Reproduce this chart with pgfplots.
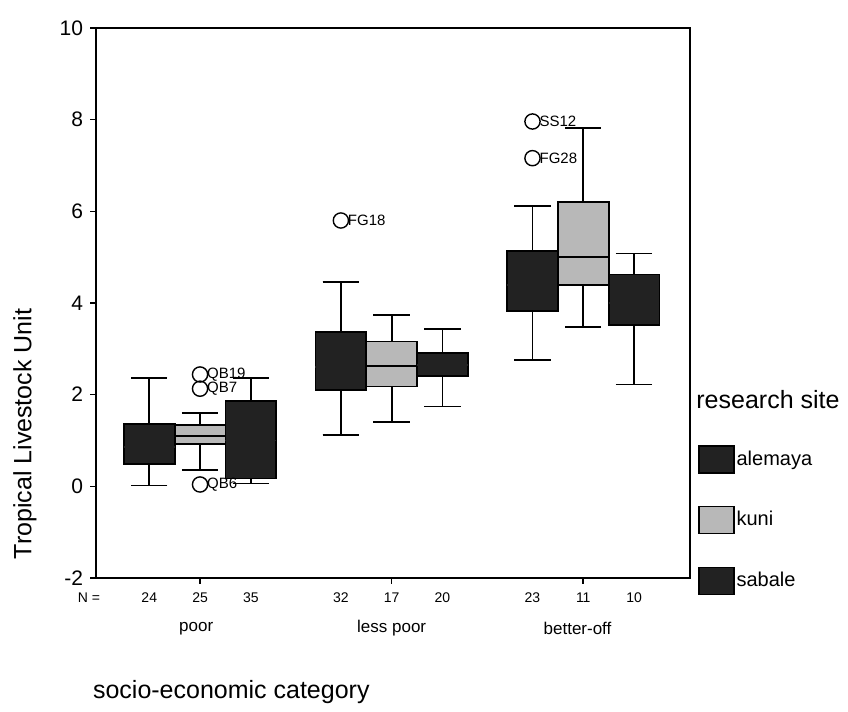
\documentclass[border=0pt]{standalone}
\usepackage{fontspec}
\setmainfont{Liberation Sans}
\usepackage{pgfplots}
\pgfplotsset{compat=1.18}
\usepgfplotslibrary{statistics}
\definecolor{darkbox}{RGB}{34,34,34}
\definecolor{kunigray}{RGB}{184,184,184}
\pgfplotsset{
  darkstyle/.style={forget plot, draw=black, fill=darkbox, line width=0.9pt,
    boxplot/every median/.style={draw=darkbox, line width=0.9pt}},
  kunistyle/.style={forget plot, draw=black, fill=kunigray, line width=0.9pt,
    boxplot/every median/.style={draw=black, line width=0.9pt}},
}
\begin{document}
\begin{tikzpicture}
\useasboundingbox (0,0) rectangle (424pt,356pt);
\begin{axis}[
  at={(48pt,67pt)}, anchor=south west,
  width=297pt, height=275pt, scale only axis,
  xmin=0.457, xmax=3.557, ymin=-2, ymax=10,
  ytick={-2,0,2,4,6,8,10},
  xtick={1,2,3}, xticklabels={},
  xtick pos=left, ytick pos=left,
  tick align=outside, major tick length=3pt,
  tick style={black, line width=0.8pt},
  axis line style={line width=0.9pt},
  yticklabel style={font=\fontsize{10.5}{12}\selectfont},
  /pgf/number format/assume math mode=true,
  clip=false,
  boxplot/draw direction=y,
  legend image code/.code={\draw[#1] (0pt,-6.75pt) rectangle (17.5pt,6.75pt);},
  legend style={at={(1.0135,0.2418)}, anchor=north west, draw=none, fill=none,
    font=\fontsize{10}{12}\selectfont, row sep=16.25pt, inner sep=0pt,
    nodes={inner sep=1pt}},
  legend cell align=left,
]
% ---- poor ----
\addplot[darkstyle,
  boxplot prepared={draw position=0.735, lower whisker=0.02, lower quartile=0.48,
  median=0.85, upper quartile=1.36, upper whisker=2.37, box extend=0.265, whisker extend=0.19}]
  coordinates {};
\addplot[kunistyle,
  boxplot prepared={draw position=1, lower whisker=0.35, lower quartile=0.92,
  median=1.09, upper quartile=1.34, upper whisker=1.6, box extend=0.265, whisker extend=0.19}]
  coordinates {};
\addplot[darkstyle,
  boxplot prepared={draw position=1.265, lower whisker=0.06, lower quartile=0.17,
  median=1.0, upper quartile=1.86, upper whisker=2.37, box extend=0.265, whisker extend=0.19}]
  coordinates {};
% ---- less poor ----
\addplot[darkstyle,
  boxplot prepared={draw position=1.735, lower whisker=1.12, lower quartile=2.11,
  median=2.6, upper quartile=3.36, upper whisker=4.46, box extend=0.265, whisker extend=0.19}]
  coordinates {};
\addplot[kunistyle,
  boxplot prepared={draw position=2, lower whisker=1.41, lower quartile=2.18,
  median=2.63, upper quartile=3.16, upper whisker=3.73, box extend=0.265, whisker extend=0.19}]
  coordinates {};
\addplot[darkstyle,
  boxplot prepared={draw position=2.265, lower whisker=1.74, lower quartile=2.4,
  median=2.65, upper quartile=2.91, upper whisker=3.44, box extend=0.265, whisker extend=0.19}]
  coordinates {};
% ---- better-off ----
\addplot[darkstyle,
  boxplot prepared={draw position=2.735, lower whisker=2.75, lower quartile=3.82,
  median=4.4, upper quartile=5.14, upper whisker=6.11, box extend=0.265, whisker extend=0.19}]
  coordinates {};
\addplot[kunistyle,
  boxplot prepared={draw position=3, lower whisker=3.47, lower quartile=4.4,
  median=5.01, upper quartile=6.2, upper whisker=7.82, box extend=0.265, whisker extend=0.19}]
  coordinates {};
\addplot[darkstyle,
  boxplot prepared={draw position=3.265, lower whisker=2.22, lower quartile=3.52,
  median=4.0, upper quartile=4.62, upper whisker=5.08, box extend=0.265, whisker extend=0.19}]
  coordinates {};
% ---- outliers ----
\addplot[forget plot, only marks, mark=o, mark size=3.8pt, black, line width=0.7pt,
  nodes near coords, point meta=explicit symbolic,
  every node near coord/.style={anchor=west, inner sep=0pt, xshift=3.2pt,
    font=\fontsize{7.5}{9}\selectfont}]
  table[meta=label] {
x y label
1 2.44 QB19
1 2.13 QB7
1 0.04 QB6
1.735 5.8 FG18
2.735 7.96 SS12
2.735 7.16 FG28
};
% ---- legend ----
\addlegendimage{fill=darkbox, draw=black, line width=0.6pt}
\addlegendentry{alemaya}
\addlegendimage{fill=kunigray, draw=black, line width=0.6pt}
\addlegendentry{kuni}
\addlegendimage{fill=darkbox, draw=black, line width=0.6pt}
\addlegendentry{sabale}
% ---- N counts and group names ----
\begin{scope}[every node/.style={font=\fontsize{7}{8}\selectfont}]
\node at (axis cs:0.42,-2.43) {N =};
\node at (axis cs:0.735,-2.43) {24};
\node at (axis cs:1,-2.43) {25};
\node at (axis cs:1.265,-2.43) {35};
\node at (axis cs:1.735,-2.43) {32};
\node at (axis cs:2,-2.43) {17};
\node at (axis cs:2.265,-2.43) {20};
\node at (axis cs:2.735,-2.43) {23};
\node at (axis cs:3,-2.43) {11};
\node at (axis cs:3.265,-2.43) {10};
\end{scope}
\begin{scope}[every node/.style={font=\fontsize{8.5}{10}\selectfont}]
\node at (axis cs:0.98,-3.1) {poor};
\node at (axis cs:2,-3.1) {less poor};
\node at (axis cs:2.97,-3.1) {better-off};
\end{scope}
\end{axis}
\node[rotate=90, font=\fontsize{12.5}{14}\selectfont] at (12.5pt,139pt) {Tropical Livestock Unit};
\node[anchor=west, font=\fontsize{12.5}{14}\selectfont] at (43pt,10pt) {socio-economic category};
\node[anchor=west, font=\fontsize{12.5}{14}\selectfont, inner sep=0pt] at (348pt,156pt) {research site};
\end{tikzpicture}
\end{document}
